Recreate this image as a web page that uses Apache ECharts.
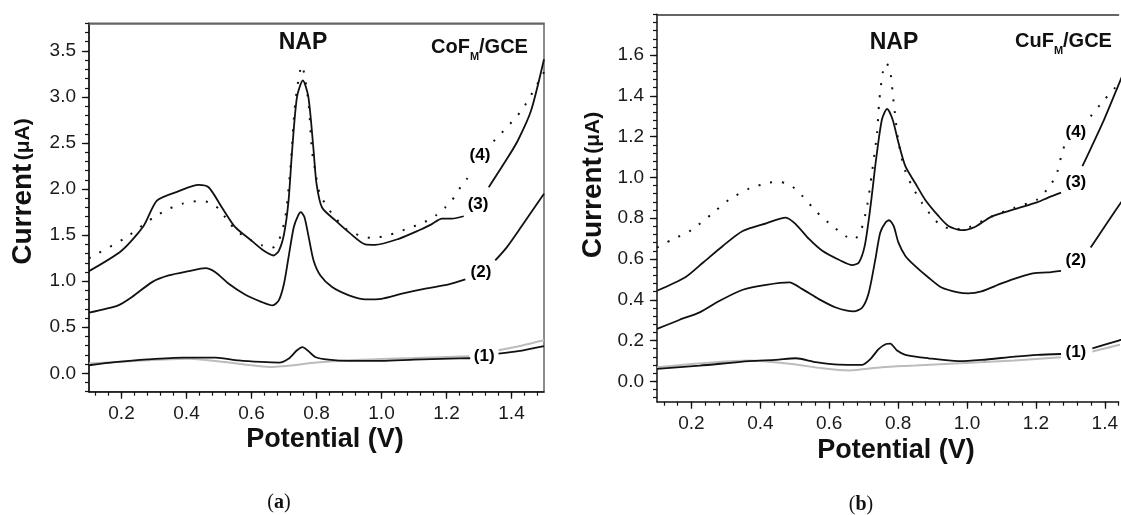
<!DOCTYPE html>
<html><head><meta charset="utf-8">
<script src="https://cdn.jsdelivr.net/npm/echarts@6/dist/echarts.min.js"></script>
<style>html,body{margin:0;padding:0;background:#fff}#c{width:1121px;height:515px}</style>
</head><body><div id="c"></div>
<script>
// ---- tick labels ----
const xTicks = [0.2, 0.4, 0.6, 0.8, 1.0, 1.2, 1.4];
const yTicksA = [0, 0.5, 1.0, 1.5, 2.0, 2.5, 3.0, 3.5];
const yTicksB = [0, 0.2, 0.4, 0.6, 0.8, 1.0, 1.2, 1.4, 1.6];

// ---- panel (a) CoF_M/GCE : [potential V, current uA]; null = gap under label ----
const a0 = [[0.10,0.105],[0.28,0.141],[0.41,0.159],[0.53,0.116],[0.66,0.069],[0.80,0.116],[0.90,0.141],[1.00,0.155],[1.10,0.165],[1.27,0.184],[1.30,null],[1.36,0.249],[1.43,0.30],[1.50,0.358]];
const a1 = [[0.10,0.087],[0.18,0.12],[0.28,0.15],[0.39,0.17],[0.49,0.17],[0.56,0.14],[0.63,0.123],[0.685,0.116],[0.715,0.16],[0.74,0.25],[0.757,0.285],[0.772,0.25],[0.796,0.177],[0.837,0.148],[0.90,0.134],[1.00,0.134],[1.10,0.148],[1.21,0.159],[1.273,0.163],[1.30,null],[1.36,0.213],[1.42,0.24],[1.50,0.296]];
const a2 = [[0.10,0.658],[0.19,0.737],[0.232,0.827],[0.294,0.99],[0.345,1.062],[0.407,1.109],[0.458,1.142],[0.489,1.098],[0.53,0.972],[0.58,0.856],[0.632,0.773],[0.665,0.737],[0.684,0.791],[0.70,0.972],[0.714,1.26],[0.73,1.586],[0.743,1.71],[0.752,1.749],[0.763,1.695],[0.776,1.478],[0.791,1.225],[0.812,1.062],[0.848,0.936],[0.90,0.846],[0.95,0.802],[1.00,0.809],[1.063,0.864],[1.135,0.918],[1.207,0.965],[1.258,1.019],[1.30,null],[1.35,1.225],[1.386,1.37],[1.43,1.59],[1.50,1.95]];
const a3 = [[0.10,1.109],[0.20,1.33],[0.268,1.60],[0.309,1.875],[0.376,1.977],[0.437,2.045],[0.468,2.02],[0.509,1.80],[0.55,1.586],[0.60,1.44],[0.637,1.333],[0.668,1.279],[0.684,1.33],[0.70,1.51],[0.714,1.875],[0.725,2.42],[0.74,3.0],[0.758,3.18],[0.775,3.0],[0.791,2.42],[0.80,2.06],[0.817,1.80],[0.858,1.66],[0.90,1.53],[0.95,1.40],[0.98,1.395],[1.053,1.46],[1.114,1.55],[1.155,1.62],[1.186,1.68],[1.217,1.68],[1.253,1.705],[1.29,null],[1.33,2.02],[1.39,2.35],[1.42,2.53],[1.46,2.85],[1.50,3.41]];
const a4 = [[0.10,1.25],[0.125,1.297],[0.212,1.47],[0.268,1.615],[0.30,1.695],[0.345,1.785],[0.386,1.84],[0.437,1.87],[0.468,1.857],[0.50,1.785],[0.53,1.64],[0.56,1.53],[0.60,1.44],[0.632,1.39],[0.663,1.36],[0.684,1.44],[0.704,1.695],[0.72,2.24],[0.735,2.95],[0.755,3.34],[0.775,2.95],[0.786,2.42],[0.796,2.20],[0.81,1.95],[0.848,1.73],[0.89,1.57],[0.93,1.50],[0.97,1.47],[1.022,1.50],[1.083,1.575],[1.125,1.63],[1.166,1.71],[1.196,1.80],[1.217,1.88],[1.243,2.02],[1.265,2.12],[1.30,null],[1.345,2.52],[1.43,2.85],[1.50,3.27]];
const labelsA = [['(1)',1.316,0.184],['(2)',1.306,1.10],['(3)',1.297,1.84],['(4)',1.303,2.37]];

// ---- panel (b) CuF_M/GCE ----
const b0 = [[0.10,0.069],[0.368,0.102],[0.484,0.086],[0.58,0.064],[0.657,0.053],[0.753,0.069],[0.849,0.077],[0.994,0.09],[1.138,0.102],[1.273,0.118],[1.31,null],[1.364,0.146],[1.44,0.178],[1.50,0.20]];
const b1 = [[0.10,0.061],[0.224,0.077],[0.368,0.099],[0.445,0.105],[0.503,0.113],[0.561,0.094],[0.628,0.082],[0.696,0.081],[0.72,0.11],[0.744,0.159],[0.765,0.183],[0.777,0.185],[0.797,0.151],[0.821,0.13],[0.888,0.113],[0.974,0.099],[1.042,0.105],[1.138,0.121],[1.205,0.13],[1.273,0.134],[1.31,null],[1.364,0.162],[1.44,0.20],[1.50,0.23]];
const b2 = [[0.10,0.257],[0.166,0.302],[0.224,0.338],[0.282,0.395],[0.349,0.449],[0.417,0.473],[0.484,0.485],[0.522,0.452],[0.57,0.403],[0.619,0.362],[0.671,0.343],[0.696,0.362],[0.715,0.436],[0.734,0.599],[0.748,0.729],[0.763,0.778],[0.774,0.79],[0.787,0.762],[0.801,0.68],[0.821,0.615],[0.849,0.566],[0.888,0.509],[0.926,0.46],[0.974,0.436],[1.003,0.431],[1.042,0.441],[1.10,0.48],[1.148,0.509],[1.196,0.531],[1.234,0.534],[1.273,0.542],[1.31,null],[1.359,0.656],[1.44,0.86],[1.50,1.0]];
const b3 = [[0.10,0.444],[0.181,0.509],[0.234,0.583],[0.291,0.664],[0.349,0.737],[0.417,0.775],[0.474,0.803],[0.503,0.77],[0.542,0.697],[0.58,0.64],[0.628,0.596],[0.667,0.57],[0.686,0.583],[0.703,0.664],[0.72,0.86],[0.736,1.088],[0.753,1.284],[0.768,1.336],[0.784,1.284],[0.801,1.17],[0.821,1.055],[0.849,0.974],[0.878,0.892],[0.917,0.811],[0.946,0.762],[0.984,0.741],[1.023,0.757],[1.071,0.808],[1.138,0.844],[1.205,0.879],[1.234,0.90],[1.273,0.925],[1.30,null],[1.335,1.055],[1.398,1.284],[1.436,1.438],[1.50,1.70]];
const b4 = [[0.10,0.655],[0.113,0.669],[0.147,0.697],[0.20,0.742],[0.258,0.819],[0.31,0.892],[0.368,0.945],[0.426,0.974],[0.455,0.977],[0.484,0.966],[0.522,0.909],[0.561,0.835],[0.609,0.762],[0.647,0.713],[0.669,0.694],[0.69,0.729],[0.71,0.86],[0.724,1.023],[0.739,1.22],[0.745,1.37],[0.756,1.52],[0.766,1.56],[0.777,1.52],[0.787,1.37],[0.80,1.186],[0.816,1.055],[0.84,0.958],[0.869,0.876],[0.897,0.811],[0.926,0.762],[0.965,0.746],[1.003,0.754],[1.071,0.808],[1.138,0.852],[1.205,0.892],[1.234,0.945],[1.258,1.006],[1.273,1.10],[1.282,1.153],[1.32,null],[1.359,1.30],[1.398,1.38],[1.427,1.434],[1.50,1.60]];
const labelsB = [['(1)',1.316,0.142],['(2)',1.316,0.593],['(3)',1.316,0.977],['(4)',1.316,1.219]];

// ---- helpers ----
const FF = "'Liberation Sans', Arial, Helvetica, sans-serif";
const SERIF = "'Liberation Serif', 'Times New Roman', serif";
function steps(from, to, step) { const out = []; const n = Math.round((to - from) / step); for (let i = 0; i <= n; i++) out.push(+(from + i * step).toFixed(4)); return out; }
const xMinorA = steps(0.12, 1.48, 0.04);
const xMinorB = steps(0.12, 1.44, 0.04);
const yMinorA = steps(-0.2, 3.8, 0.1);
const yMinorB = steps(-0.08, 1.8, 0.04);
const XMAX_A = 1.5, XMAX_B = 1.44;   // panel (b) is cut off by the right image edge

function xAxes(g, max, minor, topLine) {
  return [
    { type:'value', gridIndex:g, min:0.1, max, position:'bottom',
      axisLine:{ show:true, onZero:false, lineStyle:{ color:'#111', width:1.5 } },
      axisTick:{ show:true, customValues:xTicks, length:7, lineStyle:{ color:'#111', width:1.3 } },
      axisLabel:{ show:true, customValues:xTicks, formatter:v=>v.toFixed(1), fontSize:19, color:'#1a1a1a', fontFamily:FF, margin:13 },
      splitLine:{ show:false } },
    { type:'value', gridIndex:g, min:0.1, max, position:'bottom',
      axisLine:{ show:false, onZero:false },
      axisTick:{ show:true, customValues:minor, length:4, lineStyle:{ color:'#111', width:1.2 } },
      axisLabel:{ show:false }, splitLine:{ show:false } },
    { type:'value', gridIndex:g, min:0.1, max, position:'top',
      axisLine:{ show:true, onZero:false, lineStyle:{ color:topLine, width:1.5 } },
      axisTick:{ show:false }, axisLabel:{ show:false }, splitLine:{ show:false } }
  ];
}
function yAxes(g, min, max, major, minor) {
  return [
    { type:'value', gridIndex:g, min, max, position:'left',
      axisLine:{ show:true, onZero:false, lineStyle:{ color:'#111', width:1.5 } },
      axisTick:{ show:true, customValues:major, length:7, lineStyle:{ color:'#111', width:1.3 } },
      axisLabel:{ show:true, customValues:major, formatter:v=>v.toFixed(1), fontSize:19, color:'#1a1a1a', fontFamily:FF, margin:13 },
      splitLine:{ show:false } },
    { type:'value', gridIndex:g, min, max, position:'left',
      axisLine:{ show:false, onZero:false },
      axisTick:{ show:true, customValues:minor, length:4, lineStyle:{ color:'#111', width:1.2 } },
      axisLabel:{ show:false }, splitLine:{ show:false } }
  ];
}
function curve(data, g, kind) {
  const ls = kind === 'gray' ? { color:'#bcbcbc', width:2 }
           : kind === 'dot' ? { color:'#111', width:2, type:[2, 10] }
           : { color:'#111', width:1.8 };
  return { type:'line', xAxisIndex:g*3, yAxisIndex:g*2, data, symbol:'none', showSymbol:false,
           smooth:0.25, connectNulls:false, lineStyle:ls, z: kind === 'gray' ? 2 : 3,
           silent:true, animation:false };
}
function labelSeries(list, g) {
  return { type:'custom', xAxisIndex:g*3, yAxisIndex:g*2, silent:true, animation:false, z:5,
           data:list.map(d => [d[1], d[2], d[0]]),
           encode:{ x:0, y:1 },
           renderItem:(params, api) => {
             const p = api.coord([api.value(0), api.value(1)]);
             return { type:'text', x:p[0], y:p[1],
                      style:{ text:list[params.dataIndex][0], fontSize:17, fontWeight:'bold', fontFamily:FF,
                              fill:'#000', align:'center', verticalAlign:'middle' } };
           } };
}
function txt(x, y, text, rich, rot, align) {
  return { type:'text', x, y, rotation: rot || 0, silent:true,
           style:{ text, rich, align:align || 'center', verticalAlign:'middle', textAlign:align || 'center', textVerticalAlign:'middle', fill:'#111', fontFamily:FF } };
}
const subRich = { a:{ fontSize:20, fontWeight:'bold', fontFamily:FF, fill:'#111' },
                  m:{ fontSize:11, fontWeight:'bold', fontFamily:FF, fill:'#111', padding:[19,0,0,0] } };
const yRich = { a:{ fontSize:28, fontWeight:'bold', fontFamily:FF, fill:'#111' },
                b:{ fontSize:21, fontWeight:'bold', fontFamily:FF, fill:'#111' } };
const xRich = { a:{ fontSize:27, fontWeight:'bold', fontFamily:FF, fill:'#111' } };
const napRich = { a:{ fontSize:23, fontWeight:'bold', fontFamily:FF, fill:'#111' } };
const nRich = { a:{ fontSize:20, fontFamily:SERIF, fill:'#111' },
                b:{ fontSize:20, fontWeight:'bold', fontFamily:SERIF, fill:'#111' } };

const chart = echarts.init(document.getElementById('c'), null, { renderer:'canvas' });
chart.setOption({
  backgroundColor:'#fff',
  animation:false,
  grid:[
    { left:89, top:23.3, width:455, height:368.4, show:true, borderColor:'#666', borderWidth:1.5, containLabel:false },
    { left:657, top:14.3, right:0, height:387.4, show:false, containLabel:false }
  ],
  xAxis:[...xAxes(0, XMAX_A, xMinorA, '#666'), ...xAxes(1, XMAX_B, xMinorB, '#333')],
  yAxis:[...yAxes(0, -0.2, 3.8, yTicksA, yMinorA), ...yAxes(1, -0.1, 1.8, yTicksB, yMinorB)],
  series:[
    curve(a0,0,'gray'), curve(a1,0,'solid'), curve(a2,0,'solid'), curve(a3,0,'solid'), curve(a4,0,'dot'), labelSeries(labelsA,0),
    curve(b0,1,'gray'), curve(b1,1,'solid'), curve(b2,1,'solid'), curve(b3,1,'solid'), curve(b4,1,'dot'), labelSeries(labelsB,1)
  ],
  graphic:[
    txt(303, 43, '{a|NAP}', napRich),
    txt(894, 43, '{a|NAP}', napRich),
    txt(431, 47, '{a|CoF}{m|M}{a|/GCE}', subRich, 0, 'left'),
    txt(1015, 41, '{a|CuF}{m|M}{a|/GCE}', subRich, 0, 'left'),
    txt(23.5, 191.5, '{a|Current} {b|(\u03bcA)}', yRich, Math.PI/2),
    txt(593, 185, '{a|Current} {b|(\u03bcA)}', yRich, Math.PI/2),
    txt(325, 440, '{a|Potential (V)}', xRich),
    txt(896, 451, '{a|Potential (V)}', xRich),
    txt(279, 503, '{a|(}{b|a}{a|)}', nRich),
    txt(861, 505, '{a|(}{b|b}{a|)}', nRich)
  ]
});
</script></body></html>
